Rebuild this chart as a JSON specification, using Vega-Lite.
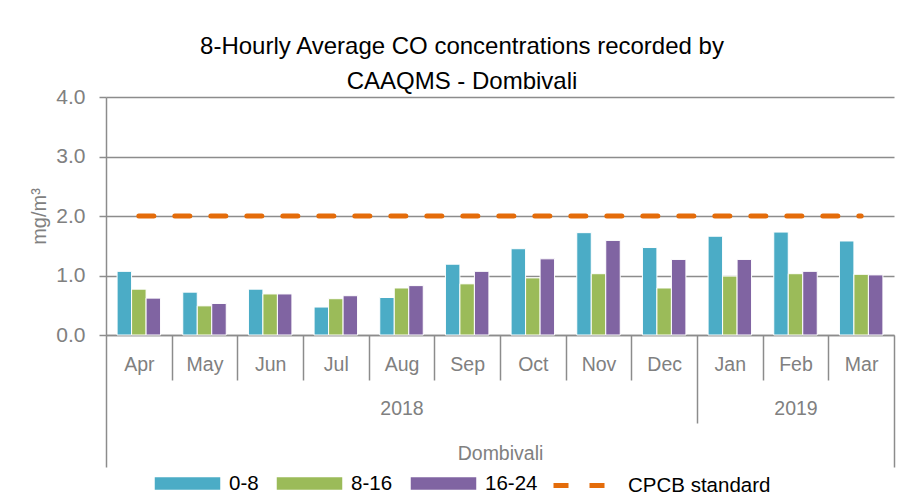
{
  "$schema": "https://vega.github.io/schema/vega-lite/v6.json",
  "width": 788,
  "height": 238,
  "autosize": {"type": "none"},
  "padding": {"left": 106, "top": 97, "right": 3, "bottom": 167},
  "background": "white",
  "config": {
    "font": "Liberation Sans",
    "view": {"stroke": null}
  },
  "title": {
    "text": ["8-Hourly Average CO concentrations recorded by", "CAAQMS - Dombivali"],
    "font": "Liberation Sans",
    "fontSize": 24,
    "fontWeight": "normal",
    "color": "#000000",
    "anchor": "middle",
    "lineHeight": 35,
    "dx": -38,
    "offset": -8
  },
  "datasets": {
    "bars": [
      {"month": "Apr", "band": "0-8", "value": 1.07}, {"month": "Apr", "band": "8-16", "value": 0.77}, {"month": "Apr", "band": "16-24", "value": 0.62},
      {"month": "May", "band": "0-8", "value": 0.72}, {"month": "May", "band": "8-16", "value": 0.49}, {"month": "May", "band": "16-24", "value": 0.53},
      {"month": "Jun", "band": "0-8", "value": 0.77}, {"month": "Jun", "band": "8-16", "value": 0.69}, {"month": "Jun", "band": "16-24", "value": 0.69},
      {"month": "Jul", "band": "0-8", "value": 0.47}, {"month": "Jul", "band": "8-16", "value": 0.61}, {"month": "Jul", "band": "16-24", "value": 0.66},
      {"month": "Aug", "band": "0-8", "value": 0.63}, {"month": "Aug", "band": "8-16", "value": 0.79}, {"month": "Aug", "band": "16-24", "value": 0.83},
      {"month": "Sep", "band": "0-8", "value": 1.19}, {"month": "Sep", "band": "8-16", "value": 0.86}, {"month": "Sep", "band": "16-24", "value": 1.07},
      {"month": "Oct", "band": "0-8", "value": 1.45}, {"month": "Oct", "band": "8-16", "value": 0.96}, {"month": "Oct", "band": "16-24", "value": 1.28},
      {"month": "Nov", "band": "0-8", "value": 1.72}, {"month": "Nov", "band": "8-16", "value": 1.03}, {"month": "Nov", "band": "16-24", "value": 1.59},
      {"month": "Dec", "band": "0-8", "value": 1.47}, {"month": "Dec", "band": "8-16", "value": 0.79}, {"month": "Dec", "band": "16-24", "value": 1.27},
      {"month": "Jan", "band": "0-8", "value": 1.66}, {"month": "Jan", "band": "8-16", "value": 0.99}, {"month": "Jan", "band": "16-24", "value": 1.27},
      {"month": "Feb", "band": "0-8", "value": 1.73}, {"month": "Feb", "band": "8-16", "value": 1.03}, {"month": "Feb", "band": "16-24", "value": 1.07},
      {"month": "Mar", "band": "0-8", "value": 1.58}, {"month": "Mar", "band": "8-16", "value": 1.02}, {"month": "Mar", "band": "16-24", "value": 1.01}
    ],
    "cpcb": [
      {"month": "Apr", "standard": 2}, {"month": "May", "standard": 2}, {"month": "Jun", "standard": 2},
      {"month": "Jul", "standard": 2}, {"month": "Aug", "standard": 2}, {"month": "Sep", "standard": 2},
      {"month": "Oct", "standard": 2}, {"month": "Nov", "standard": 2}, {"month": "Dec", "standard": 2},
      {"month": "Jan", "standard": 2}, {"month": "Feb", "standard": 2}, {"month": "Mar", "standard": 2}
    ]
  },
  "layer": [
    {
      "data": {"name": "bars"},
      "mark": {"type": "bar", "stroke": "white", "strokeWidth": 1},
      "encoding": {
        "x": {
          "field": "month",
          "type": "nominal",
          "sort": ["Apr", "May", "Jun", "Jul", "Aug", "Sep", "Oct", "Nov", "Dec", "Jan", "Feb", "Mar"],
          "scale": {"paddingInner": 0, "paddingOuter": 0},
          "axis": {
            "title": "Dombivali",
            "titleFont": "Liberation Sans",
            "titleFontSize": 19.5,
            "titleFontWeight": "normal",
            "titleColor": "#808080",
            "titleBaseline": "middle",
            "titleY": 118,
            "labelAngle": 0,
            "labelFont": "Liberation Sans",
            "labelFontSize": 19.5,
            "labelColor": "#808080",
            "labelBaseline": "top",
            "labelLineHeight": 44,
            "labelPadding": {
              "condition": [
                {"test": "datum.value == 'Mar'", "value": -112},
                {"test": "datum.value == 'Dec'", "value": -68}
              ],
              "value": -25
            },
            "labelOverlap": false,
            "labelExpr": "datum.value == 'Aug' ? ['Aug', '2018'] : datum.value == 'Feb' ? ['Feb', '2019'] : datum.value",
            "tickBand": "extent",
            "tickColor": "#8c8c8c",
            "tickWidth": 1.5,
            "tickSize": {
              "condition": [
                {"test": "datum.extra || datum.value == 'Mar'", "value": 132},
                {"test": "datum.value == 'Dec'", "value": 88}
              ],
              "value": 45
            },
            "domainColor": "#8c8c8c",
            "domainWidth": 1.5
          }
        },
        "xOffset": {
          "field": "band",
          "type": "nominal",
          "sort": ["0-8", "8-16", "16-24"],
          "scale": {"paddingInner": 0, "paddingOuter": 0.765}
        },
        "y": {
          "field": "value",
          "type": "quantitative",
          "scale": {"domain": [0, 4]},
          "axis": {
            "title": "mg/m³",
            "titleFont": "Liberation Sans",
            "titleFontSize": 20,
            "titleFontWeight": "normal",
            "titleColor": "#808080",
            "titlePadding": 6,
            "values": [0, 1, 2, 3, 4],
            "format": ".1f",
            "labelFont": "Liberation Sans",
            "labelFontSize": 21,
            "labelColor": "#808080",
            "labelPadding": 14,
            "tickSize": 7,
            "tickColor": "#8c8c8c",
            "tickWidth": 1.5,
            "grid": true,
            "gridColor": "#8c8c8c",
            "gridWidth": 1.5,
            "domainColor": "#8c8c8c",
            "domainWidth": 1.5
          }
        },
        "color": {
          "field": "band",
          "type": "nominal",
          "scale": {
            "domain": ["0-8", "8-16", "16-24"],
            "range": ["#4BACC6", "#9BBB59", "#8064A2"]
          },
          "legend": {
            "title": null,
            "orient": "none",
            "direction": "horizontal",
            "legendX": 47,
            "legendY": 352,
            "labelFont": "Liberation Sans",
            "labelFontSize": 20.5,
            "labelColor": "#000000",
            "labelOffset": 7,
            "columnPadding": 14,
            "symbolSize": 4489,
            "symbolType": "M-1,-0.21H1V0.21H-1Z",
            "symbolOpacity": 1
          }
        }
      }
    },
    {
      "data": {"name": "cpcb"},
      "mark": {"type": "line", "strokeWidth": 5, "strokeCap": "round", "color": "#E46C0A"},
      "encoding": {
        "x": {"field": "month", "type": "nominal", "sort": ["Apr", "May", "Jun", "Jul", "Aug", "Sep", "Oct", "Nov", "Dec", "Jan", "Feb", "Mar"]},
        "y": {"field": "standard", "type": "quantitative"},
        "strokeDash": {
          "datum": "CPCB standard",
          "scale": {"domain": ["CPCB standard"], "range": [[15, 21]]},
          "legend": {
            "title": null,
            "orient": "none",
            "direction": "horizontal",
            "legendX": 445,
            "legendY": 358,
            "labelFont": "Liberation Sans",
            "labelFontSize": 20.5,
            "labelColor": "#000000",
            "labelOffset": 16,
            "symbolType": "stroke",
            "symbolSize": 3136,
            "symbolStrokeColor": "#E46C0A",
            "symbolStrokeWidth": 5,
            "symbolDash": [20, 16],
            "symbolOpacity": 1
          }
        }
      }
    }
  ]
}
